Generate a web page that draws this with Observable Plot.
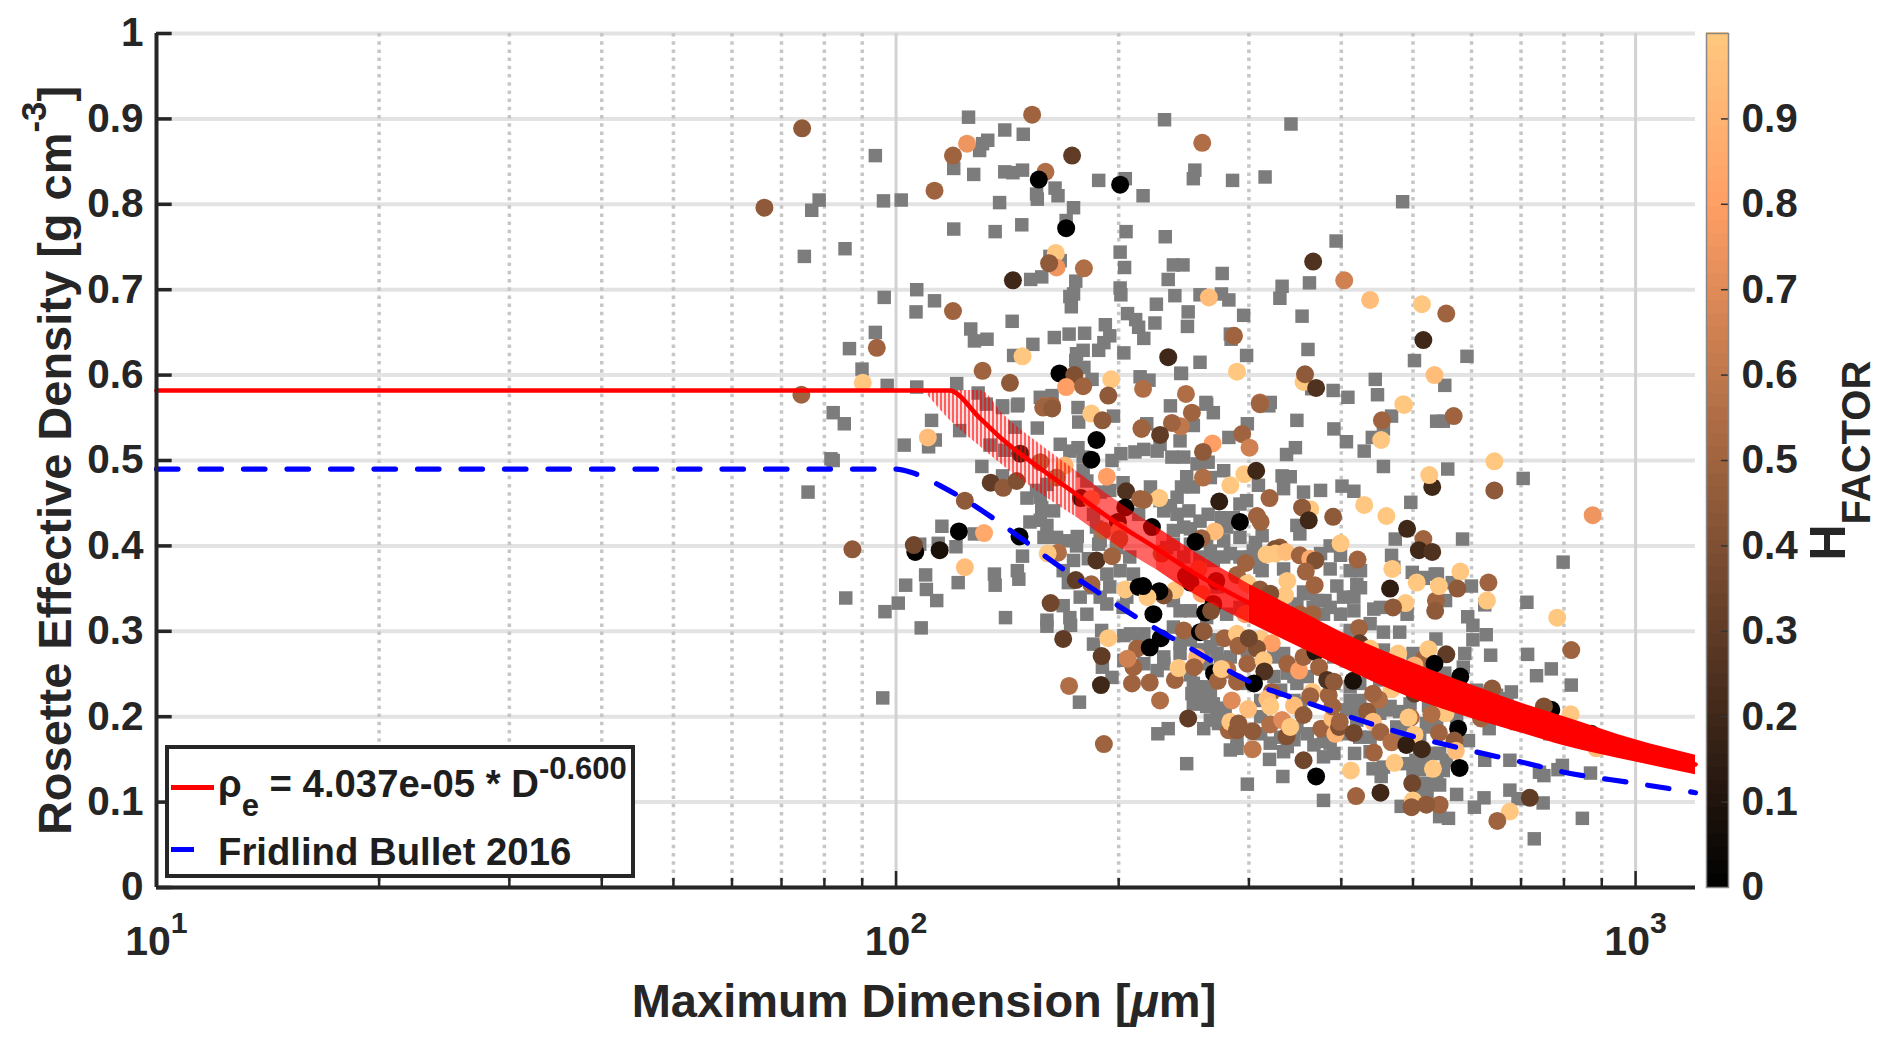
<!DOCTYPE html>
<html><head><meta charset="utf-8">
<script src="https://cdn.jsdelivr.net/npm/d3@7"></script>
<script src="https://cdn.jsdelivr.net/npm/@observablehq/plot@0.6"></script>
<style>
html,body{margin:0;padding:0;background:#fff;overflow:hidden}
#wrap{position:relative;width:1892px;height:1043px;font-family:"Liberation Sans",Arial,sans-serif;color:#1e1e1e}
#bar{position:absolute;left:1706px;top:0}
#legend{position:absolute;left:165px;top:745px;width:470px;height:133px;box-sizing:border-box;border:4px solid #262626;background:#fff;font-weight:bold;font-size:38.3px}
.ln{position:absolute;white-space:nowrap;line-height:1}
.swatch{position:absolute;height:5px}
.sub{font-size:31px;position:relative;top:19px}
.sup{font-size:31px;position:relative;top:-18px}
</style></head><body><div id="wrap"><div id="main"></div><div id="bar"></div>
<div id="legend">
<div class="swatch" style="left:2px;top:36px;width:43px;background:#ff0000"></div>
<div class="swatch" style="left:2px;top:98px;width:23px;background:#0000ff"></div>
<div class="ln" style="left:49px;top:16px">ρ<span class="sub">e</span> = 4.037e-05 * D<span class="sup">-0.600</span></div>
<div class="ln" style="left:49px;top:84px">Fridlind Bullet 2016</div>
</div></div>
<script>
// Values: [log10(max dimension / µm), effective density]
const grayUpperLeft=[[2.098,.902],[2.147,.887],[2.172,.882],[2.124,.875],[2.117,.871],[2.113,.863],[1.972,.857],[2.078,.842],[2.105,.835],[2.147,.838],[2.158,.837],[2.171,.84],[2.19,.812],[2.191,.806],[2.215,.819],[2.219,.81],[1.896,.805],[1.886,.793],[1.983,.804],[2.007,.805],[2.14,.802],[2.24,.796],[2.23,.781],[2.078,.771],[2.134,.768],[2.17,.776],[2.274,.828],[2.31,.83],[2.334,.81],[2.311,.768],[2.364,.762],[2.363,.899],[1.876,.739],[1.931,.748],[2.208,.739],[2.222,.734],[2.303,.744],[2.309,.726],[2.375,.729],[2.368,.712],[2.182,.712],[2.197,.715],[2.243,.71],[2.24,.695],[2.235,.692],[2.237,.68],[2.303,.702],[2.304,.694],[2.028,.7],[1.984,.691],[2.052,.687],[2.027,.674],[2.377,.693],[2.352,.683],[2.35,.661],[2.157,.663],[2.101,.654],[2.106,.64],[2.123,.642],[2.313,.672],[2.324,.665],[2.328,.656],[2.335,.643],[2.283,.659],[2.289,.646],[2.281,.638],[2.274,.629],[1.972,.65],[1.937,.631],[2.185,.636],[2.214,.644],[2.234,.648],[2.255,.649],[2.308,.626],[2.253,.629],[2.244,.625],[2.243,.617],[2.254,.609],[2.159,.623],[1.954,.607],[1.988,.588],[2.028,.586],[2.082,.59],[2.265,.595],[2.33,.598],[2.342,.594],[2.385,.602],[2.111,.579],[2.144,.564],[2.195,.574],[2.211,.576],[2.165,.566]];
const grayUpperRight=[[2.534,.894],[2.404,.84],[2.402,.83],[2.455,.828],[2.499,.832],[2.685,.803],[2.595,.757],[2.388,.729],[2.441,.719],[2.522,.704],[2.519,.69],[2.559,.708],[2.411,.694],[2.44,.695],[2.45,.688],[2.395,.674],[2.47,.67],[2.394,.657],[2.549,.669],[2.452,.648],[2.453,.642],[2.557,.63],[2.474,.623],[2.411,.615],[2.701,.617],[2.772,.622],[2.386,.602],[2.648,.595],[2.742,.588],[2.591,.582],[2.611,.574],[2.651,.577],[2.562,.584],[2.419,.568],[2.506,.568]];
const grayMidLeft=[[1.93,.543],[2.048,.547],[2.011,.518],[2.053,.524],[2.044,.516],[2.086,.535],[2.122,.566],[2.144,.562],[2.164,.564],[2.161,.539],[2.191,.538],[2.127,.518],[2.147,.512],[2.222,.519],[2.246,.515],[2.235,.511],[2.116,.493],[2.144,.482],[2.246,.562],[2.247,.545],[2.294,.552],[2.304,.508],[2.292,.5],[2.323,.51],[2.177,.456],[2.195,.457],[2.213,.441],[2.197,.445],[2.181,.428],[2.195,.43],[2.204,.424],[2.2,.41],[2.217,.41],[2.245,.411],[2.244,.4],[2.231,.406],[2.062,.423],[2.106,.414],[2.032,.402],[2.057,.403],[2.081,.399],[2.171,.388],[2.133,.367],[2.134,.354],[2.164,.371],[2.166,.361],[2.04,.366],[2.013,.354],[2.084,.357],[2.041,.349],[2.055,.336],[2.003,.333],[1.985,.323],[1.932,.339],[2.274,.402],[2.26,.385],[2.303,.371],[2.285,.367],[2.289,.352],[2.226,.371],[2.233,.357],[2.276,.34],[2.226,.33],[2.235,.316],[2.258,.32],[2.148,.316],[2.204,.313],[2.307,.328],[2.204,.472],[2.19,.465],[2.276,.463],[2.289,.465],[2.267,.437],[2.271,.422],[2.307,.474],[2.328,.437],[2.253,.504],[2.253,.488],[1.915,.556],[1.915,.5],[1.912,.502],[1.881,.463],[1.982,.222],[2.034,.304]];
const grayMidRight=[[2.371,.564],[2.42,.566],[2.429,.556],[2.402,.541],[2.384,.523],[2.353,.511],[2.373,.504],[2.335,.513],[2.339,.543],[2.475,.543],[2.45,.527],[2.504,.564],[2.542,.547],[2.592,.537],[2.609,.522],[2.54,.515],[2.528,.507],[2.633,.511],[2.644,.527],[2.67,.552],[2.659,.537],[2.422,.498],[2.443,.488],[2.393,.481],[2.386,.469],[2.49,.471],[2.522,.482],[2.533,.481],[2.524,.467],[2.551,.463],[2.574,.465],[2.603,.47],[2.619,.464],[2.659,.493],[2.696,.451],[2.486,.404],[2.474,.453],[2.465,.449],[2.422,.437],[2.44,.433],[2.456,.433],[2.396,.441],[2.38,.457],[2.371,.447],[2.398,.42],[2.362,.441],[2.375,.418],[2.344,.469],[2.675,.408],[2.542,.424],[2.546,.414],[2.731,.546],[2.495,.412],[2.587,.4],[2.601,.389],[2.574,.391],[2.67,.389],[2.587,.373],[2.614,.371],[2.628,.371],[2.524,.373],[2.623,.355],[2.596,.353],[2.698,.369],[2.713,.363],[2.729,.367],[2.673,.375],[2.551,.346],[2.58,.336],[2.605,.34],[2.619,.34],[2.646,.326],[2.655,.328],[2.691,.32],[2.425,.394],[2.398,.402],[2.42,.406],[2.443,.406],[2.495,.371],[2.483,.394],[2.465,.387],[2.492,.387],[2.542,.332],[2.578,.32],[2.601,.32],[2.434,.352],[2.375,.336],[2.384,.324],[2.452,.391],[2.375,.402],[2.74,.546],[2.746,.49],[2.848,.479],[2.766,.408],[2.902,.381],[2.713,.362],[2.732,.367],[2.778,.353],[2.743,.336],[2.796,.331],[2.853,.334],[2.773,.317],[2.752,.357]];
const grayLowLeft=[[2.204,.306],[2.236,.307],[2.278,.301],[2.267,.285],[2.317,.297],[2.335,.297],[2.384,.286],[2.362,.27],[2.362,.262],[2.335,.262],[2.279,.258],[2.292,.246],[2.248,.217],[2.402,.239],[2.411,.227],[2.425,.227],[2.411,.215],[2.42,.212],[2.434,.204],[2.368,.186],[2.354,.18],[2.416,.186],[2.436,.192],[2.461,.163],[2.493,.219],[2.393,.145],[2.475,.121],[2.505,.15],[2.523,.13],[2.578,.102],[2.524,.159],[2.565,.167],[2.578,.171],[2.578,.153],[2.542,.239],[2.529,.251],[2.511,.27],[2.547,.215],[2.538,.219],[2.416,.278],[2.434,.274],[2.475,.278],[2.308,.295],[2.33,.29],[2.375,.305],[2.407,.278],[2.42,.262],[2.475,.239],[2.52,.176],[2.592,.239],[2.538,.173]];
const grayLowRight=[[2.681,.299],[2.659,.299],[2.641,.309],[2.614,.301],[2.73,.291],[2.78,.307],[2.798,.296],[2.78,.29],[2.804,.272],[2.854,.273],[2.866,.248],[2.886,.256],[2.913,.237],[2.832,.229],[2.769,.274],[2.767,.258],[2.785,.231],[2.812,.225],[2.826,.221],[2.839,.192],[2.802,.186],[2.774,.172],[2.83,.149],[2.796,.149],[2.87,.135],[2.876,.131],[2.901,.143],[2.895,.138],[2.939,.134],[2.62,.157],[2.641,.159],[2.645,.139],[2.656,.13],[2.659,.141],[2.703,.149],[2.708,.138],[2.717,.122],[2.735,.12],[2.718,.112],[2.758,.109],[2.795,.105],[2.782,.094],[2.83,.114],[2.841,.104],[2.875,.099],[2.683,.095],[2.735,.083],[2.747,.081],[2.863,.057],[2.928,.081],[2.884,.18],[2.677,.188],[2.627,.176],[2.663,.208],[2.681,.206],[2.72,.213],[2.753,.204],[2.758,.196],[2.695,.215],[2.627,.219],[2.614,.235],[2.609,.208],[2.627,.208],[2.699,.18],[2.722,.188],[2.744,.149],[2.708,.157],[2.69,.145],[2.74,.137],[2.645,.27],[2.659,.278],[2.699,.274],[2.742,.251]];
const grayDenseA=[[2.398,.249],[2.407,.235],[2.4,.227],[2.42,.235],[2.402,.215],[2.429,.215],[2.425,.196],[2.445,.21],[2.439,.266],[2.425,.282],[2.452,.27],[2.511,.247],[2.524,.274],[2.538,.247],[2.556,.247],[2.578,.278],[2.592,.27],[2.52,.231],[2.493,.18],[2.506,.169],[2.529,.165],[2.556,.18],[2.542,.188],[2.587,.169],[2.592,.157],[2.493,.2],[2.461,.172],[2.452,.161],[2.308,.266],[2.353,.254],[2.384,.274],[2.398,.29],[2.434,.29]];
const grayDenseB=[[2.614,.219],[2.623,.196],[2.641,.208],[2.654,.204],[2.668,.212],[2.609,.18],[2.641,.176],[2.677,.176],[2.686,.184],[2.708,.176],[2.717,.192],[2.731,.196],[2.713,.145],[2.726,.157],[2.731,.129],[2.708,.114],[2.735,.157],[2.699,.13],[2.753,.215],[2.789,.219],[2.74,.223],[2.731,.235],[2.69,.254],[2.726,.247],[2.668,.247],[2.627,.239],[2.654,.243],[2.65,.258]];
const grayDenseC=[[2.357,.519],[2.389,.504],[2.407,.496],[2.425,.48],[2.402,.469],[2.357,.453],[2.38,.437],[2.389,.422],[2.411,.429],[2.447,.422],[2.465,.41],[2.479,.387],[2.492,.375],[2.443,.387],[2.429,.383],[2.411,.387],[2.389,.387],[2.366,.398],[2.555,.344],[2.569,.336],[2.587,.328],[2.628,.351],[2.619,.324],[2.564,.328],[2.524,.328],[2.51,.32],[2.465,.328],[2.447,.32],[2.398,.324],[2.42,.316],[2.258,.476],[2.276,.406],[2.298,.398],[2.316,.387],[2.321,.367],[2.312,.34],[2.285,.332],[2.267,.351],[2.249,.34],[2.24,.383]];
// [log10(D), density, HFACTOR]
const dotsUpperLeft=[[1.873,.889,.45],[1.822,.796,.45],[2.184,.905,.5],[2.096,.871,.75],[2.077,.857,.5],[2.052,.816,.5],[2.202,.838,.55],[2.193,.829,0],[2.238,.857,.3],[2.303,.823,0],[2.23,.772,0],[2.216,.743,1],[2.217,.726,.75],[2.207,.731,.45],[2.254,.725,.55],[2.158,.711,.2],[2.077,.675,.5],[1.974,.632,.5],[2.171,.622,1],[2.117,.605,.5],[2.154,.591,.45],[2.221,.602,0],[2.241,.6,.4],[2.23,.586,.8],[2.253,.587,.5],[2.291,.595,1],[2.334,.584,.55],[2.287,.576,.45],[2.368,.621,.2],[1.955,.591,1],[1.872,.577,.5],[2.201,.564,.55],[2.211,.564,.5]];
const dotsUpperRight=[[2.414,.872,.55],[2.564,.733,.25],[2.606,.711,.65],[2.641,.688,.95],[2.711,.683,1],[2.744,.672,.5],[2.713,.641,.2],[2.423,.691,.95],[2.457,.646,.5],[2.461,.604,1],[2.728,.6,.95],[2.551,.592,1],[2.553,.601,.45],[2.568,.585,.25],[2.392,.578,.55],[2.492,.568,.55],[2.686,.566,1]];
const dotsMidLeft=[[2.043,.527,.95],[2.093,.453,.45],[2.128,.474,.3],[2.145,.468,.45],[2.163,.476,.4],[2.228,.494,.9],[2.271,.524,0],[2.264,.501,0],[2.285,.481,.8],[2.311,.464,.25],[2.31,.445,0],[2.264,.555,1],[2.279,.547,.45],[2.199,.562,.5],[2.211,.561,.45],[2.332,.537,.5],[2.168,.508,.2],[2.195,.498,.55],[2.217,.48,.55],[2.25,.456,.1],[2.264,.455,.8],[2.3,.428,.05],[2.28,.418,.55],[2.302,.418,.8],[2.302,.408,.55],[1.941,.396,.45],[2.026,.393,0],[2.024,.401,.35],[2.059,.395,.08],[2.085,.417,0],[2.119,.415,.85],[2.167,.411,0],[2.093,.375,.95],[2.219,.392,.55],[2.205,.391,1],[2.271,.383,.25],[2.292,.388,.5],[2.243,.36,.3],[2.264,.355,.5],[2.31,.349,1],[2.209,.333,.35],[2.328,.352,0],[2.33,.455,.5]];
const dotsMidRight=[[2.492,.566,.5],[2.4,.556,.5],[2.385,.54,.6],[2.373,.544,.5],[2.332,.538,.5],[2.357,.53,.3],[2.428,.52,.8],[2.415,.51,.45],[2.468,.531,.5],[2.478,.515,.65],[2.471,.484,1],[2.487,.488,.2],[2.415,.48,.55],[2.452,.471,1],[2.505,.456,.5],[2.437,.452,.15],[2.56,.443,1],[2.549,.445,.45],[2.558,.43,.2],[2.591,.434,.45],[2.633,.448,1],[2.663,.435,1],[2.691,.42,.2],[2.713,.408,.5],[2.707,.395,.2],[2.725,.393,.25],[2.725,.469,.2],[2.721,.483,1],[2.657,.547,.5],[2.656,.524,1],[2.687,.565,1],[2.601,.403,1],[2.624,.384,.5],[2.356,.456,1],[2.335,.454,.5],[2.346,.422,0],[2.465,.428,0],[2.493,.428,.5],[2.488,.435,.5],[2.431,.417,.95],[2.413,.409,.5],[2.405,.405,0],[2.359,.391,.55],[2.409,.373,.75],[2.392,.365,.05],[2.398,.357,.05],[2.433,.359,.05],[2.473,.38,.5],[2.461,.366,.5],[2.519,.398,.45],[2.512,.396,.4],[2.501,.39,1],[2.513,.391,1],[2.527,.393,.95],[2.546,.389,.5],[2.56,.385,.85],[2.567,.383,.4],[2.554,.37,.5],[2.529,.359,1],[2.566,.354,.5],[2.526,.342,1],[2.475,.356,1],[2.495,.344,.9],[2.492,.349,.45],[2.506,.344,.4],[2.377,.348,1],[2.362,.342,.4],[2.356,.347,0],[2.34,.34,1],[2.413,.344,.8],[2.418,.322,0],[2.429,.332,.05],[2.426,.324,.4],[2.472,.32,.8],[2.546,.32,.5],[2.563,.32,.5],[2.668,.35,.15],[2.671,.373,1],[2.704,.357,1],[2.689,.333,1],[2.672,.328,.45],[2.73,.336,.5],[2.729,.324,.45],[2.734,.353,1],[2.334,.353,0],[2.348,.32,0],[2.754,.552,.5],[2.809,.499,1],[2.809,.465,.45],[2.942,.436,.75],[2.763,.37,1],[2.801,.357,.5],[2.759,.35,.45],[2.799,.336,1],[2.894,.316,1]];
const dotsLowLeft=[[2.226,.291,.3],[2.287,.292,1],[2.278,.271,.3],[2.326,.28,.5],[2.321,.258,.5],[2.313,.268,.65],[2.234,.236,.55],[2.277,.237,.2],[2.319,.239,.5],[2.343,.24,.5],[2.377,.243,.5],[2.357,.219,.55],[2.281,.168,.5],[2.395,.198,.3],[2.407,.27,.9],[2.382,.257,1],[2.403,.258,.5],[2.358,.292,0],[2.343,.281,0],[2.389,.301,.5],[2.411,.299,0],[2.416,.3,.45],[2.444,.292,.5],[2.461,.297,1],[2.463,.283,.5],[2.493,.291,1],[2.508,.286,.8],[2.488,.28,.4],[2.477,.292,.35],[2.475,.262,.5],[2.497,.266,1],[2.498,.253,.25],[2.529,.262,.5],[2.545,.254,.8],[2.551,.27,.5],[2.567,.276,.1],[2.572,.258,.5],[2.43,.251,0],[2.435,.242,.5],[2.448,.255,.55],[2.44,.256,1],[2.461,.241,.5],[2.484,.239,0],[2.454,.219,.7],[2.476,.209,.95],[2.508,.229,.5],[2.502,.221,.95],[2.506,.212,1],[2.45,.184,.5],[2.452,.194,1],[2.461,.184,.45],[2.463,.192,.45],[2.482,.183,.45],[2.482,.162,.6],[2.506,.191,.55],[2.522,.196,.7],[2.528,.177,.4],[2.533,.188,1],[2.538,.213,.95],[2.563,.229,1],[2.56,.224,.5],[2.551,.202,.45],[2.575,.186,.5],[2.594,.18,.9],[2.59,.198,.95],[2.585,.225,.5],[2.59,.212,.5],[2.583,.243,.25],[2.592,.241,.45],[2.551,.149,.35],[2.568,.13,0],[2.599,.188,.4]];
const dotsLowRight=[[2.626,.304,.5],[2.913,.278,.5],[2.713,.267,.5],[2.72,.279,1],[2.744,.273,.3],[2.728,.262,0],[2.763,.247,0],[2.679,.274,1],[2.627,.286,.3],[2.641,.28,1],[2.701,.26,.9],[2.806,.233,.45],[2.701,.227,.3],[2.618,.242,.08],[2.67,.232,1],[2.653,.22,.55],[2.645,.227,.5],[2.886,.208,0],[2.876,.212,.4],[2.912,.203,1],[2.947,.163,.95],[2.94,.18,.05],[2.791,.198,.5],[2.743,.204,1],[2.724,.203,.55],[2.696,.199,.55],[2.693,.199,1],[2.637,.206,.45],[2.645,.194,.95],[2.655,.182,.5],[2.619,.181,.35],[2.6,.194,.5],[2.76,.186,0],[2.734,.181,.5],[2.701,.179,1],[2.755,.172,.45],[2.757,.16,.95],[2.67,.17,.55],[2.69,.167,.15],[2.711,.162,.2],[2.646,.158,.5],[2.762,.14,0],[2.726,.139,1],[2.674,.146,1],[2.615,.137,1],[2.622,.107,.5],[2.655,.111,.2],[2.698,.122,.35],[2.699,.102,1],[2.697,.094,.45],[2.735,.097,.5],[2.717,.097,.45],[2.857,.105,.3],[2.83,.089,1],[2.813,.078,.5]];
// Fridlind line: D (µm), density
const fridlindD=[10,100,105,115,125,135,147,165,185,210,250,304,350,400,500,600,700,800,1000,1205];
const fridlindRho=[.49,.49,.486,.47,.452,.433,.41,.378,.349,.318,.28,.239,.22,.203,.177,.16,.147,.135,.122,.111];
// Red fit: D (µm), centre density, band top and bottom
const fitD=[10,118,130,140,160,175,200,225,250,300,350,400,500,600,700,800,1000,1205];
const fitRho=[.582,.582,.549,.523,.485,.461,.425,.397,.371,.333,.304,.28,.244,.219,.2,.184,.161,.144];
const bandD=[109,118,130,140,160,175,200,225,250,300,350,400,500,600,700,800,1000,1205];
const bandTop=[.582,.582,.582,.553,.513,.488,.451,.422,.396,.355,.325,.299,.263,.237,.216,.2,.173,.155];
const bandBottom=[.582,.548,.516,.493,.456,.434,.399,.372,.346,.31,.282,.258,.221,.198,.181,.166,.147,.132];
const yTicks=[0,.1,.2,.3,.4,.5,.6,.7,.8,.9,1];
const barTicks=[0,.1,.2,.3,.4,.5,.6,.7,.8,.9];
const majorX=[10,100,1000];
const minorX=[20,30,40,50,60,70,80,90,200,300,400,500,600,700,800,900];
const copper=t=>`rgb(${Math.round(255*Math.min(1,1.25*t))},${Math.round(199.2*t)},${Math.round(126.9*t)})`;
const ink="#262626";

const gray=[...grayUpperLeft,...grayUpperRight,...grayMidLeft,...grayMidRight,...grayLowLeft,...grayLowRight,...grayDenseA,...grayDenseB,...grayDenseC].map(([l,r])=>({D:10**l,rho:r}));
const dots=[...dotsUpperLeft,...dotsUpperRight,...dotsMidLeft,...dotsMidRight,...dotsLowLeft,...dotsLowRight].map(([l,r,h])=>({D:10**l,rho:r,h}));
const fridlind=fridlindD.map((D,i)=>({D,rho:fridlindRho[i]}));
const fit=fitD.map((D,i)=>({D,rho:fitRho[i]}));
const band=bandD.map((D,i)=>({D,top:bandTop[i],bottom:bandBottom[i]}));
const seg=(a,b)=>band.filter(d=>d.D>=a&&d.D<=b);
const bandArea=(a,b,o)=>Plot.areaY(seg(a,b),{x:"D",y1:"bottom",y2:"top",curve:"monotone-x",...o});
const defs=()=>{const d=d3.create("svg:defs");
 const p=d.append("pattern").attr("id","hatch").attr("width",4).attr("height",4).attr("patternUnits","userSpaceOnUse");
 p.append("rect").attr("width",2).attr("height",4).attr("fill","#ff0000").attr("fill-opacity",.62);
 p.append("rect").attr("x",2).attr("width",2).attr("height",4).attr("fill","#ff0000").attr("fill-opacity",.12);
 return d.node();};

const svg=Plot.plot({
 width:1892,height:1043,marginLeft:156,marginRight:197,marginTop:33,marginBottom:156,
 style:{fontFamily:'"Liberation Sans",Arial,sans-serif',background:"#fff",overflow:"visible"},
 x:{type:"log",domain:[10,1205],axis:null},
 y:{domain:[0,1],axis:null},
 color:{type:"linear",domain:[0,1],interpolate:copper},
 marks:[
  defs,
  Plot.ruleY(yTicks,{stroke:"#e3e3e3",strokeWidth:4}),
  Plot.ruleX(minorX,{stroke:"#c6c6c6",strokeWidth:3.5,strokeDasharray:"3.5,4.7"}),
  Plot.ruleX([100,1000],{stroke:"#d2d2d2",strokeWidth:3}),
  Plot.dot(gray,{x:"D",y:"rho",symbol:"square",r:7.6,fill:"#7c7c7c",stroke:"none"}),
  Plot.dot(dots,{x:"D",y:"rho",r:9,fill:"h",stroke:"none"}),
  Plot.line(fridlind,{x:"D",y:"rho",stroke:"#0000ff",strokeWidth:5.2,strokeDasharray:"21.5,22",curve:"monotone-x"}),
  bandArea(109,175,{fill:"url(#hatch)"}),
  bandArea(175,225,{fill:"#ff0000",fillOpacity:.6}),
  bandArea(225,300,{fill:"#ff0000",fillOpacity:.78}),
  bandArea(300,1205,{fill:"#ff0000"}),
  Plot.line(fit,{x:"D",y:"rho",stroke:"#ff0000",strokeWidth:4.6,curve:"monotone-x"}),
  Plot.ruleX(minorX,{y1:0,y2:.0105,stroke:ink,strokeWidth:2.5}),
  Plot.ruleX(majorX,{y1:0,y2:.0187,stroke:ink,strokeWidth:2.5}),
  Plot.ruleY(yTicks,{x1:10,x2:10.5,stroke:ink,strokeWidth:3.5}),
  Plot.ruleX([10],{stroke:ink,strokeWidth:4}),
  Plot.ruleY([0],{stroke:ink,strokeWidth:4}),
  Plot.axisY({ticks:yTicks,tickSize:0,tickPadding:13,label:null,fontSize:40.5,fontWeight:"bold",color:ink,tickFormat:d=>(d===0||d===1)?String(d):d.toFixed(1)}),
  Plot.axisX({ticks:majorX,tickSize:0,tickPadding:38,label:null,fontSize:41,fontWeight:"bold",color:ink,tickFormat:d=>`10^{${Math.round(Math.log10(d))}}`}),
  Plot.text(["Maximum Dimension [~{μ}m]"],{frameAnchor:"bottom",lineAnchor:"bottom",dx:-2,dy:129,fontSize:47,fontWeight:"bold",fill:ink}),
  Plot.text(["Rosette Effective Density [g cm^{-3}]"],{frameAnchor:"left",rotate:-90,textAnchor:"middle",lineAnchor:"bottom",dx:-86,fontSize:47,fontWeight:"bold",fill:ink}),
  Plot.text(["H_{FACTOR}"],{frameAnchor:"right",rotate:-90,textAnchor:"start",lineAnchor:"bottom",dx:149,dy:100,fontSize:50,fontWeight:"bold",fill:ink})
 ]
});

const barSteps=d3.range(64).map(i=>i/64);
const bar=Plot.plot({
 width:186,height:1043,marginLeft:0,marginRight:164,marginTop:33,marginBottom:156,
 style:{fontFamily:'"Liberation Sans",Arial,sans-serif',background:"transparent",overflow:"visible"},
 x:{domain:[0,1],axis:null},
 y:{domain:[0,1],axis:null},
 color:{type:"linear",domain:[0,1],interpolate:copper},
 marks:[
  Plot.rect(barSteps,{x1:0,x2:1,y1:d=>d,y2:d=>d+1/64+.001,fill:d=>d+.5/64}),
  Plot.ruleY(barTicks.slice(1),{x1:.68,x2:1,stroke:"#333",strokeWidth:1.5}),
  Plot.frame({stroke:"#888",strokeWidth:1.5}),
  Plot.axisY({anchor:"right",ticks:barTicks,tickSize:0,tickPadding:13,label:null,fontSize:40.5,fontWeight:"bold",color:ink,tickFormat:d=>d===0?"0":d.toFixed(1)})
 ]
});

function richText(root){
 const ns="http://www.w3.org/2000/svg";
 root.querySelectorAll("text").forEach(t=>{
  const s=t.textContent;
  if(!/[\^_~]\{/.test(s))return;
  const size=parseFloat(getComputedStyle(t).fontSize)||40;
  t.textContent="";
  let shift=0;
  s.split(/([\^_~]\{[^}]*\})/).filter(Boolean).forEach(p=>{
   const m=p.match(/^([\^_~])\{([^}]*)\}$/);
   const ts=document.createElementNS(ns,"tspan");
   let target=0;
   if(m){ts.textContent=m[2];
    if(m[1]==="^"){target=-.52*size;ts.setAttribute("font-size",.74*size);}
    else if(m[1]==="_"){target=.5*size;ts.setAttribute("font-size",.8*size);}
    else ts.setAttribute("font-style","italic");
   }else ts.textContent=p;
   if(target!==shift)ts.setAttribute("dy",target-shift);
   shift=target;
   t.appendChild(ts);
  });
 });
}
document.getElementById("main").appendChild(svg);
document.getElementById("bar").appendChild(bar);
richText(svg);
</script></body></html>
